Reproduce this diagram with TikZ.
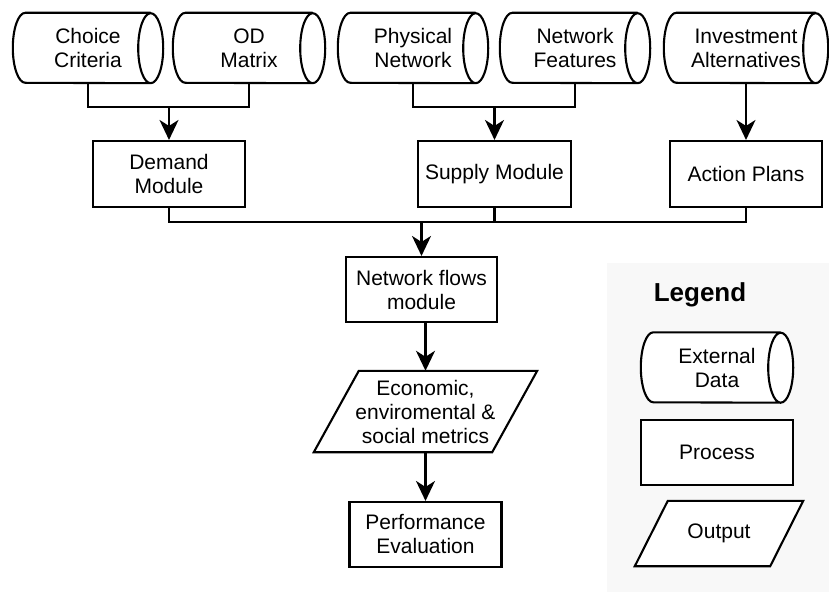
\documentclass[tikz,border=0pt]{standalone}
\usepackage{fontspec}
\setmainfont{Liberation Sans}
\usetikzlibrary{arrows.meta}
\pgfdeclarelayer{bg}
\pgfdeclarelayer{shapes}
\pgfsetlayers{bg,shapes,main}
\definecolor{legendbg}{HTML}{F8F8F8}
\tikzset{
  lw/.style={line width=2.1pt},
  base/.style={font=\fontsize{21}{24}\selectfont, align=center, inner sep=0pt},
  proc/.style={base, draw, lw, minimum width=152pt, minimum height=66pt},
  cylnode/.style={base, minimum width=#1, minimum height=70pt},
  parnode/.style={base},
  arr/.style={lw, -{Stealth[length=20pt,width=19pt,inset=6pt]}},
}
\newcommand\drawcyl[1]{%
  \draw[lw,fill=white] ([xshift=-12.5pt]#1.north east) -- ([xshift=12.5pt]#1.north west)
    arc[start angle=90,end angle=270,x radius=12.5pt,y radius=35pt]
    -- ([xshift=-12.5pt]#1.south east)
    arc[start angle=270,end angle=450,x radius=12.5pt,y radius=35pt]
    arc[start angle=90,end angle=270,x radius=12.5pt,y radius=35pt];}
\newcommand\drawpar[2]{%
  \draw[lw,fill=white] ([xshift=#2]#1.north west) -- (#1.north east)
    -- ([xshift=-#2]#1.south east) -- (#1.south west) -- cycle;}
\begin{document}
\begin{tikzpicture}[x=1pt,y=1pt]
\useasboundingbox (0,0) rectangle (829,-601);
% legend background
\begin{pgfonlayer}{bg}
  \fill[legendbg] (607,-263) rectangle (829,-592);
\end{pgfonlayer}
% external data
\node[cylnode=150pt] (cc) at (88,-48) {Choice\\Criteria};
\node[cylnode=152pt] (od) at (249,-48) {OD\\Matrix};
\node[cylnode=150pt] (pn) at (413,-48) {Physical\\Network};
\node[cylnode=150pt] (nf) at (575,-48) {Network\\Features};
\node[cylnode=164pt] (ia) at (746,-48) {Investment\\Alternatives};
% processes
\node[proc] (dm) at (169,-174) {Demand\\Module};
\node[proc, minimum width=153pt] (sm) at (494.5,-174) {Supply Module};
\node[proc] (ap) at (746,-174) {Action Plans};
\node[proc, minimum width=151pt, minimum height=65pt] (nfm) at (421.5,-289.5) {Network flows\\module};
\node[parnode, minimum width=223pt, minimum height=81pt] (par) at (425.5,-411.5) {Economic,\\enviromental \&\\social metrics};
\node[proc, minimum height=65pt] (pe) at (425.5,-534.5) {Performance\\Evaluation};
% legend
\node[base, font=\fontsize{26}{30}\selectfont\bfseries] (lt) at (700,-295) {Legend};
\node[cylnode=152pt] (lc) at (717,-367.5) {External\\Data};
\node[proc, minimum height=65pt, fill=white] (lp) at (717,-452.5) {Process};
\node[parnode, minimum width=168pt, minimum height=65pt] (lo) at (719,-533.5) {Output};
\begin{pgfonlayer}{shapes}
  \foreach \n in {cc,od,pn,nf,ia,lc} {\drawcyl{\n}}
  \drawpar{par}{45pt}
  \drawpar{lo}{33pt}
\end{pgfonlayer}
% connectors
\coordinate (j1) at (169,-107);
\coordinate (j2) at (494.5,-107);
\coordinate (j3) at (421.5,-222);
\draw[lw] (cc.south) |- (j1) -| (od.south);
\draw[arr] (j1) -- (dm.north);
\draw[lw] (pn.south) |- (j2) -| (nf.south);
\draw[arr] (j2) -- (sm.north);
\draw[arr] (ia.south) -- (ap.north);
\draw[lw] (dm.south) |- (j3) -| (ap.south);
\draw[lw] (sm.south) -- (sm.south |- j3);
\draw[arr] (j3) -- (nfm.north);
\draw[arr] (par.north |- nfm.south) -- (par.north);
\draw[arr] (par.south) -- (pe.north);
\end{tikzpicture}
\end{document}
